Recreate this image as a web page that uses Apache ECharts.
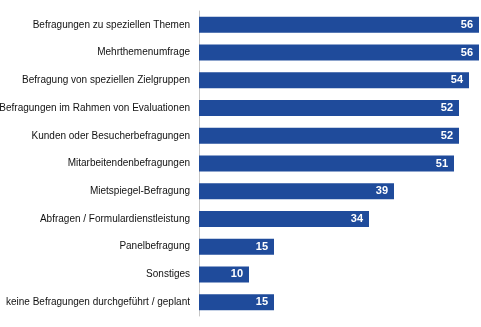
<!DOCTYPE html>
<html><head><meta charset="utf-8">
<script src="https://cdn.jsdelivr.net/npm/echarts@6/dist/echarts.min.js"></script>
<style>html,body{margin:0;padding:0;background:#fff}#c{width:481px;height:327px}</style>
</head><body><div id="c"></div>
<script>
var categories = [
  "Befragungen zu speziellen Themen",
  "Mehrthemenumfrage",
  "Befragung von speziellen Zielgruppen",
  "Befragungen im Rahmen von Evaluationen",
  "Kunden oder Besucherbefragungen",
  "Mitarbeitendenbefragungen",
  "Mietspiegel-Befragung",
  "Abfragen / Formulardienstleistung",
  "Panelbefragung",
  "Sonstiges",
  "keine Befragungen durchgeführt / geplant"
];
var values = [56, 56, 54, 52, 52, 51, 39, 34, 15, 10, 15];

var chart = echarts.init(document.getElementById('c'), null, {renderer: 'canvas'});
chart.setOption({
  animation: false,
  grid: {left: 199, right: 2, top: 11, bottom: 11, containLabel: false, outerBoundsMode: 'none'},
  xAxis: {type: 'value', min: 0, max: 56, show: false},
  yAxis: {
    type: 'category', data: categories, inverse: true,
    axisLine: {show: true, lineStyle: {color: '#c8c8c8', width: 1}},
    axisTick: {show: false},
    axisLabel: {color: '#111', fontFamily: 'Liberation Sans, Arial, sans-serif', fontSize: 10, margin: 9}
  },
  series: [{
    type: 'bar', data: values, barWidth: 16,
    itemStyle: {color: '#1f4b9b'},
    label: {show: true, position: 'insideRight', offset: [-1, 0], color: '#fff', fontWeight: 'bold', fontSize: 11, fontFamily: 'Liberation Sans, Arial, sans-serif'}
  }]
});
</script></body></html>
